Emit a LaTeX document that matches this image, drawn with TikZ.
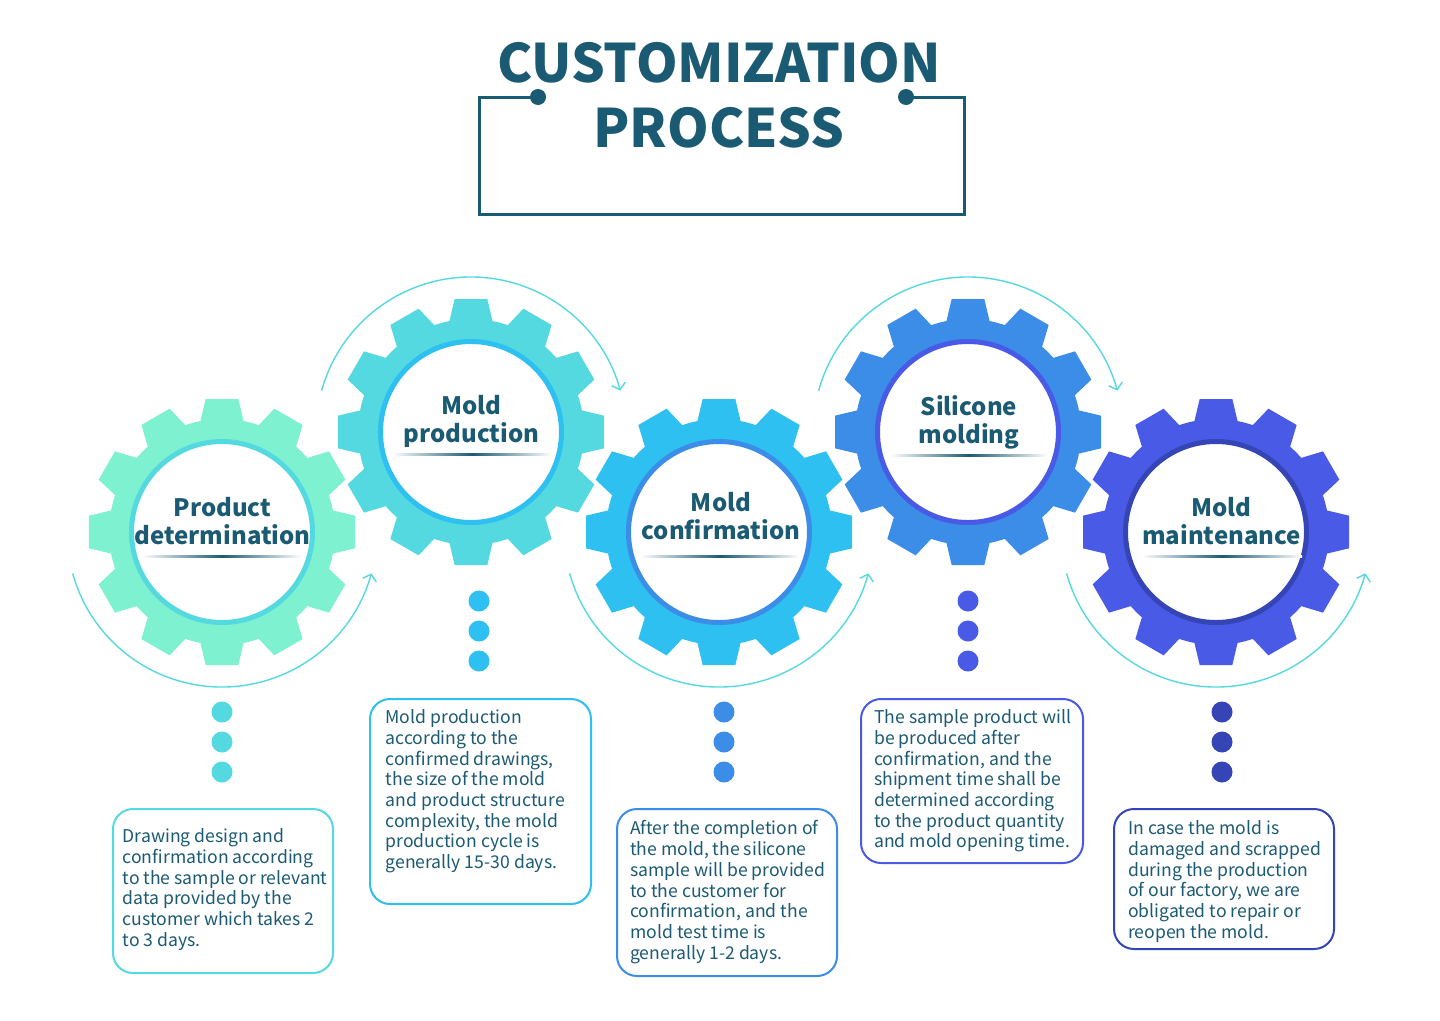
\documentclass[tikz,border=0pt]{standalone}
\usepackage{fontspec}
\setmainfont{Noto Sans CJK SC}
\usetikzlibrary{arrows.meta}
\definecolor{ink}{HTML}{1B5A73}
\definecolor{cMint}{HTML}{7EF2D0}
\definecolor{cCyan}{HTML}{55D9E0}
\definecolor{cSky}{HTML}{2DC0F0}
\definecolor{cBlue}{HTML}{3B8DE8}
\definecolor{cIndigo}{HTML}{485AE6}
\definecolor{cDeep}{HTML}{3545B5}
\newcommand\drawgear[4]{%
  \begin{scope}[shift={(#1,#2)}]
    \fill[#3] (-11:113) foreach \a in {0,30,...,330}{ -- (\a-7:134) -- (\a+7:134) -- (\a+11:113) arc[start angle=\a+11, end angle=\a+19, radius=113] } -- cycle;
    \fill[white] (0,0) circle[radius=90];
    \draw[#4, line width=5] (0,0) circle[radius=90.5];
  \end{scope}}
\newcommand\gearline[3]{%
  \shade[left color=white, right color=white, middle color=ink] (#1,#3) rectangle (#2,#3+2.5);}
\begin{document}
\begin{tikzpicture}[x=1pt, y=-1pt,
  flow/.style={draw=cCyan, line width=1.4, -{Straight Barb[length=6,width=14]}},
  gtitle/.style={font=\fontsize{24}{28.5}\selectfont\bfseries, text=ink, align=center, inner sep=0, anchor=north, execute at begin node=\rule{0pt}{20pt}},
  descbox/.style={draw=#1, line width=2, rounded corners=20, fill=white, anchor=north west, inner sep=0},
  desc/.style={font=\fontsize{17.6}{20.7}\selectfont, text=ink, align=left, inner sep=0, anchor=north west, execute at begin node=\rule{0pt}{15pt}},
  dot/.style={circle, fill=#1, minimum size=21, inner sep=0},
  ttl/.style={font=\fontsize{53}{53}\selectfont\bfseries, text=ink, inner sep=0}
]
\fill[white] (0,0) rectangle (1440,1020);
\useasboundingbox (0,0) rectangle (1440,1020);

% title
\node[ttl] (title1) at (719,63) {CUSTOMIZATION};
\node[ttl] (title2) at (719,127.5) {PROCESS};
\node[dot=ink, minimum size=16] (dl) at (538,97) {};
\node[dot=ink, minimum size=16] (dr) at (906,97) {};
\draw[ink, line width=3] (dl.center) -- (479,97) -- (479,214.5) -- (964.5,214.5) -- (964.5,97) -- (dr.center);

% gear centres
\coordinate (c1) at (222,532);
\coordinate (c2) at (471,432);
\coordinate (c3) at (719,532);
\coordinate (c4) at (968,432);
\coordinate (c5) at (1216,532);

% arcs
\draw[flow] (c1) ++(164.5:155) arc[start angle=164.5, end angle=15.5, radius=155];
\draw[flow] (c2) ++(195.5:155) arc[start angle=195.5, end angle=344.5, radius=155];
\draw[flow] (c3) ++(164.5:155) arc[start angle=164.5, end angle=15.5, radius=155];
\draw[flow] (c4) ++(195.5:155) arc[start angle=195.5, end angle=344.5, radius=155];
\draw[flow] (c5) ++(164.5:155) arc[start angle=164.5, end angle=15.5, radius=155];

% gears
\drawgear{222}{532}{cMint}{cCyan}
\drawgear{471}{432}{cCyan}{cSky}
\drawgear{719}{532}{cSky}{cBlue}
\drawgear{968}{432}{cBlue}{cIndigo}
\drawgear{1216}{532}{cIndigo}{cDeep}

\node[gtitle] (g1) at (222.5,497) {Product\\determination};
\node[gtitle] (g2) at (471.5,395) {Mold\\production};
\node[gtitle] (g3) at (721,492) {Mold\\confirmation};
\node[gtitle] (g4) at (969,395) {Silicone\\molding};
\node[gtitle] (g5) at (1221.5,497) {Mold\\maintenance};
\gearline{142}{302}{555}
\gearline{392}{552}{453}
\gearline{640}{800}{555}
\gearline{890}{1048}{454}
\gearline{1142}{1302}{555}

% dots
\node[dot=cCyan] (d1a) at (222,712) {};
\node[dot=cCyan] (d1b) at (222,742) {};
\node[dot=cCyan] (d1c) at (222,772) {};
\node[dot=cSky] (d2a) at (479,601) {};
\node[dot=cSky] (d2b) at (479,631) {};
\node[dot=cSky] (d2c) at (479,661) {};
\node[dot=cBlue] (d3a) at (724,712) {};
\node[dot=cBlue] (d3b) at (724,742) {};
\node[dot=cBlue] (d3c) at (724,772) {};
\node[dot=cIndigo] (d4a) at (968,601) {};
\node[dot=cIndigo] (d4b) at (968,631) {};
\node[dot=cIndigo] (d4c) at (968,661) {};
\node[dot=cDeep] (d5a) at (1222,712) {};
\node[dot=cDeep] (d5b) at (1222,742) {};
\node[dot=cDeep] (d5c) at (1222,772) {};

% description boxes
\node[descbox=cCyan, minimum width=220, minimum height=164] (b1) at (112,808) {};
\node[descbox=cSky, minimum width=221, minimum height=205] (b2) at (369,698) {};
\node[descbox=cBlue, minimum width=220, minimum height=167] (b3) at (616,808) {};
\node[descbox=cIndigo, minimum width=222, minimum height=164] (b4) at (860,698) {};
\node[descbox=cDeep, minimum width=220, minimum height=140] (b5) at (1113,808) {};

\node[desc] (t1) at (122.5,828.5) {Drawing design and\\confirmation according\\to the sample or relevant\\data provided by the\\customer which takes 2\\to 3 days.};
\node[desc] (t2) at (385.5,709.5) {Mold production\\according to the\\confirmed drawings,\\the size of the mold\\and product structure\\complexity, the mold\\production cycle is\\generally 15-30 days.};
\node[desc] (t3) at (630,820.5) {After the completion of\\the mold, the silicone\\sample will be provided\\to the customer for\\confirmation, and the\\mold test time is\\generally 1-2 days.};
\node[desc] (t4) at (874,709.5) {The sample product will\\be produced after\\confirmation, and the\\shipment time shall be\\determined according\\to the product quantity\\and mold opening time.};
\node[desc] (t5) at (1128,820.5) {In case the mold is\\damaged and scrapped\\during the production\\of our factory, we are\\obligated to repair or\\reopen the mold.};
\end{tikzpicture}
\end{document}
